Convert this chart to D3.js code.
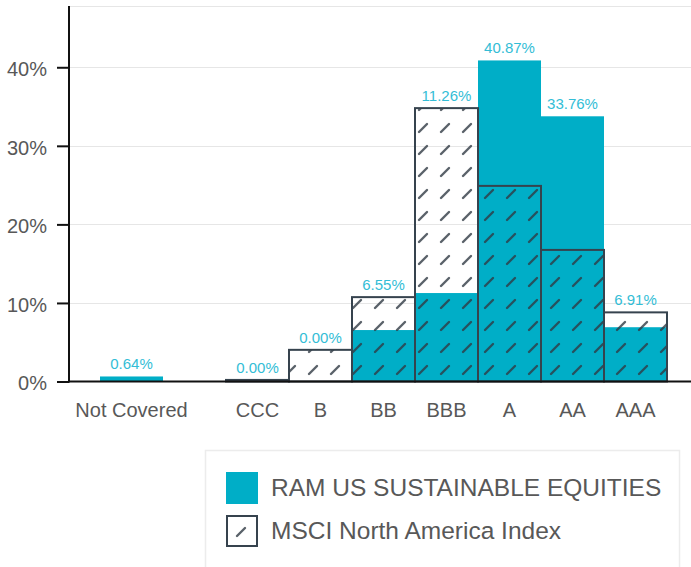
<!DOCTYPE html>
<html>
<head>
<meta charset="utf-8">
<script src="https://cdn.jsdelivr.net/npm/d3@7"></script>
<style>
  html, body { margin: 0; padding: 0; background: #fff; }
  svg { display: block; font-family: "Liberation Sans", Arial, sans-serif; }
</style>
</head>
<body>
<svg id="chart" width="691" height="567"></svg>
<script>
// ---- data ----
const categories = ["Not Covered", "", "CCC", "B", "BB", "BBB", "A", "AA", "AAA"];
const fundValues = [0.64, null, 0.00, 0.00, 6.55, 11.26, 40.87, 33.76, 6.91];
const benchValues = [0, null, 0.2, 4.03, 10.74, 34.8, 24.9, 16.75, 8.8];
const yTicks = [0, 10, 20, 30, 40];
const seriesNames = ["RAM US SUSTAINABLE EQUITIES", "MSCI North America Index"];

// ---- layout ----
const W = 691, H = 567;
const axisX = 69, baseY = 381.5, topY = 6;
const fundColor = "#00AEC7";
const labelColor = "#33BDD6";
const textColor = "#585858";
const strokeColor = "#36434e";

const svg = d3.select("#chart");

const x = d3.scaleBand().domain(categories).range([100, 667]).paddingInner(0).paddingOuter(0);
const y = d3.scaleLinear().domain([0, 47.8]).range([baseY, topY]);

// hatch pattern
const defs = svg.append("defs");
const pat = defs.append("pattern")
  .attr("id", "hatch")
  .attr("patternUnits", "userSpaceOnUse")
  .attr("x", 16).attr("y", 7)
  .attr("width", 22).attr("height", 22);
pat.append("line")
  .attr("x1", 7).attr("y1", 15).attr("x2", 15).attr("y2", 7)
  .attr("stroke", "#2f3a44").attr("stroke-opacity", 0.8)
  .attr("stroke-width", 2.4).attr("stroke-linecap", "round");

// grid lines
svg.append("g").selectAll("line")
  .data(yTicks.filter(d => d > 0).concat([47.8]))
  .join("line")
  .attr("x1", axisX).attr("x2", W)
  .attr("y1", d => Math.round(y(d)) + 0.5).attr("y2", d => Math.round(y(d)) + 0.5)
  .attr("stroke", "#e6e6e6").attr("stroke-width", 1.2);

// fund bars
const cats = categories.map((c, i) => ({ c, i, f: fundValues[i], b: benchValues[i] })).filter(d => d.c !== "");

svg.append("g").selectAll("rect")
  .data(cats.filter(d => d.f > 0))
  .join("rect")
  .attr("x", d => x(d.c))
  .attr("width", x.bandwidth())
  .attr("y", d => y(d.f))
  .attr("height", d => baseY - y(d.f))
  .attr("fill", fundColor);

// benchmark bars
svg.append("g").selectAll("rect")
  .data(cats.filter(d => d.b > 0))
  .join("rect")
  .attr("x", d => x(d.c))
  .attr("width", x.bandwidth())
  .attr("y", d => y(d.b))
  .attr("height", d => baseY - y(d.b))
  .attr("fill", "url(#hatch)")
  .attr("stroke", strokeColor)
  .attr("stroke-width", 2);

// data labels (fund values placed above the taller bar)
svg.append("g").selectAll("text")
  .data(cats)
  .join("text")
  .attr("x", d => x(d.c) + x.bandwidth() / 2)
  .attr("y", d => y(Math.max(d.f, d.b)) - 7)
  .attr("text-anchor", "middle")
  .attr("font-size", 15)
  .attr("fill", labelColor)
  .text(d => d.f.toFixed(2) + "%");

// y axis
const yAxis = d3.axisLeft(y).tickValues(yTicks).tickSize(12).tickFormat(d => d + "%");
const gy = svg.append("g").attr("transform", `translate(${axisX},0)`).call(yAxis);
gy.select(".domain").remove();
gy.selectAll(".tick line").attr("stroke", "#111").attr("stroke-width", 2);
gy.selectAll(".tick text")
  .attr("x", -22).attr("dy", "0.42em")
  .attr("font-size", 20).attr("fill", textColor)
  .attr("font-family", "Liberation Sans, Arial, sans-serif");
svg.append("line")
  .attr("x1", axisX).attr("x2", axisX).attr("y1", topY).attr("y2", baseY + 1)
  .attr("stroke", "#111").attr("stroke-width", 2);

// x axis
const xAxis = d3.axisBottom(x).tickSize(0).tickFormat(d => d);
const gx = svg.append("g").attr("transform", `translate(0,${baseY})`).call(xAxis);
gx.select(".domain").remove();
gx.selectAll(".tick text")
  .attr("y", 35).attr("dy", 0)
  .attr("font-size", 20).attr("fill", textColor)
  .attr("font-family", "Liberation Sans, Arial, sans-serif");
svg.append("line")
  .attr("x1", axisX - 1).attr("x2", W).attr("y1", baseY).attr("y2", baseY)
  .attr("stroke", "#111").attr("stroke-width", 2);

// legend
const lg = svg.append("g");
lg.append("rect")
  .attr("x", 205.5).attr("y", 450.5).attr("width", 474).attr("height", 130)
  .attr("fill", "#fff").attr("stroke", "#ececec").attr("stroke-width", 1.5);
lg.append("rect")
  .attr("x", 226).attr("y", 472).attr("width", 32).attr("height", 32)
  .attr("fill", fundColor);
lg.append("rect")
  .attr("x", 227).attr("y", 516).attr("width", 30).attr("height", 30)
  .attr("fill", "#fff").attr("stroke", strokeColor).attr("stroke-width", 2);
lg.append("line")
  .attr("x1", 237).attr("y1", 536).attr("x2", 245).attr("y2", 528)
  .attr("stroke", "#2f3a44").attr("stroke-opacity", 0.8)
  .attr("stroke-width", 2.4).attr("stroke-linecap", "round");
lg.selectAll("text.leg")
  .data(seriesNames)
  .join("text")
  .attr("class", "leg")
  .attr("x", 271)
  .attr("y", (d, i) => 496 + i * 43)
  .attr("font-size", 24.5)
  .attr("fill", textColor)
  .text(d => d);
</script>
</body>
</html>
